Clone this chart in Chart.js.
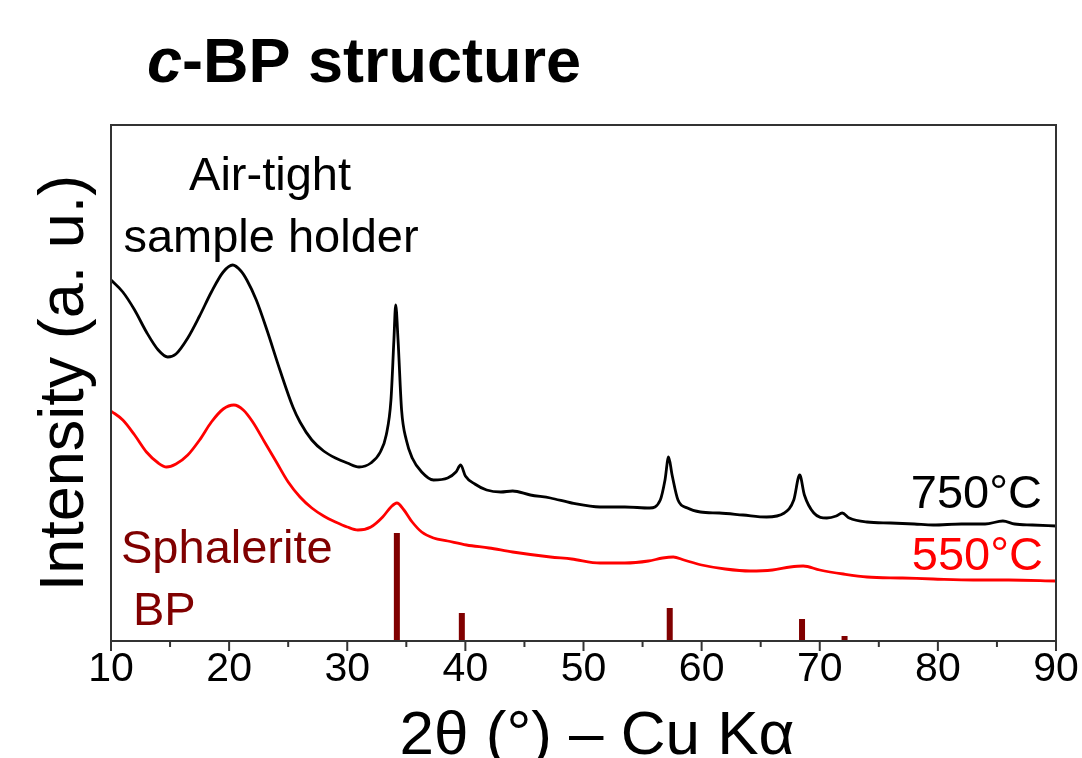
<!DOCTYPE html>
<html>
<head>
<meta charset="utf-8">
<script src="https://cdn.jsdelivr.net/npm/chart.js@4/dist/chart.umd.min.js"></script>
<style>
html,body{margin:0;padding:0;background:#fff;}
canvas{display:block;}
</style>
</head>
<body>
<canvas id="c" width="1082" height="758"></canvas>
<script>
// ---- Data (2θ in degrees, intensity in arbitrary units) ----
const angles750 = [10,11,12,13,14,14.8,15.5,16.5,17.5,18.5,19.5,20.3,21,21.5,22.3,23.2,24.3,25.4,26,27,28,29,30,31,32,32.8,33.3,33.7,33.95,34.1,34.3,34.6,35,35.5,36.3,37.3,38.5,39.2,39.6,40,40.8,41.8,43,44,45.5,47.2,49,51.4,53.5,55.6,56.5,56.9,57.2,57.5,58,58.8,59.9,61.5,63.5,65.5,67,67.8,68.3,68.7,69.5,70.6,71.4,71.9,72.5,74,76,78,79.6,82,84,85.5,86.5,88,90];
const intensity750 = [361,349,331,309,291,284,287,303,325,349,369,376,370,361,341,311,271,234,219,201,190,183,178,174,178,189,206,241,301,336,301,231,201,183,169,161,163,169,176,165,157,151,149,150,146,143,138,134,134,133,141,161,184,166,141,133,129,128,126,124,128,141,166,146,128,123,125,128,123,119,118,117,116,117,117,120,117,116,115];

const angles550 = [10,11,12,13,14,14.7,15.5,16.5,17.5,18.5,19.5,20.4,21.2,22,23,24,25,26,27,28,29,30,30.9,32,33,33.7,34.2,34.8,35.5,36.3,37.3,38.5,40.1,42,44,47.2,49,51.4,53.5,55.5,56.7,57.6,58.5,60,62,64.1,66,67.5,68.6,70,72,74,77,79.6,83,86,90];
const intensity550 = [230,221,206,189,178,174,177,186,201,219,232,236,231,219,199,179,159,144,133,125,119,114,111,114,124,134,138,131,119,109,103,100,96,93,89,84,82,78,78,80,83,84,81,76,72,70,71,74,75,71,67,64,63,62,61,61,60];

// Reference pattern: sphalerite BP
const refAngles = [34.2, 39.7, 57.3, 68.5, 72.1];
const refIntensity = [108, 28, 33, 22, 5];

const xTicks = [10,20,30,40,50,60,70,80,90];
const xMinorTicks = [15,25,35,45,55,65,75,85];

const FONT = '"Liberation Sans", Arial, Helvetica, sans-serif';

function pts(xs, ys){ return xs.map((x,i)=>({x:x, y:ys[i]})); }
const stickData = [];
refAngles.forEach((a,i)=>{ stickData.push({x:a,y:0},{x:a,y:refIntensity[i]},{x:a,y:null}); });

const decor = {
  id: 'decor',
  afterDraw(chart){
    const ctx = chart.ctx, ca = chart.chartArea, xs = chart.scales.x;
    ctx.save();
    // frame
    ctx.strokeStyle = '#333';
    ctx.lineWidth = 2;
    ctx.strokeRect(ca.left, ca.top, ca.right-ca.left, ca.bottom-ca.top);
    // ticks
    xTicks.forEach(v=>{ const p = xs.getPixelForValue(v); ctx.beginPath(); ctx.moveTo(p, ca.bottom); ctx.lineTo(p, ca.bottom+10); ctx.stroke(); });
    xMinorTicks.forEach(v=>{ const p = xs.getPixelForValue(v); ctx.beginPath(); ctx.moveTo(p, ca.bottom); ctx.lineTo(p, ca.bottom+6); ctx.stroke(); });

    // title
    ctx.fillStyle = '#000';
    ctx.textBaseline = 'alphabetic';
    ctx.textAlign = 'left';
    ctx.font = 'italic bold 63px ' + FONT;
    ctx.fillText('c', 147, 82);
    const w = ctx.measureText('c').width;
    ctx.font = 'bold 63px ' + FONT;
    ctx.fillText('-BP structure', 147 + w, 82);

    // annotations
    ctx.font = '47px ' + FONT;
    ctx.textAlign = 'center';
    ctx.fillText('Air-tight', 270, 190);
    ctx.fillText('sample holder', 271, 252);
    ctx.textAlign = 'right';
    ctx.fillText('750°C', 1042, 508);
    ctx.fillStyle = '#ff0000';
    ctx.fillText('550°C', 1043, 570);
    ctx.fillStyle = '#800000';
    ctx.textAlign = 'left';
    ctx.fillText('Sphalerite', 121, 563);
    ctx.fillText('BP', 133, 625);

    // axis titles
    ctx.fillStyle = '#000';
    ctx.font = '62px ' + FONT;
    ctx.textAlign = 'center';
    ctx.fillText('2θ (°) – Cu Kα', 597, 754);
    ctx.save();
    ctx.translate(83, 383);
    ctx.rotate(-Math.PI/2);
    ctx.font = '63px ' + FONT;
    ctx.fillText('Intensity (a. u.)', 0, 0);
    ctx.restore();
    ctx.restore();
  }
};

new Chart(document.getElementById('c'), {
  type: 'line',
  data: {
    datasets: [
      { label: '750°C', data: pts(angles750, intensity750), borderColor: '#000', borderWidth: 2.8, pointRadius: 0, cubicInterpolationMode: 'monotone', fill: false },
      { label: '550°C', data: pts(angles550, intensity550), borderColor: '#ff0000', borderWidth: 2.8, pointRadius: 0, cubicInterpolationMode: 'monotone', fill: false },
      { label: 'Sphalerite BP', data: stickData, borderColor: '#800000', borderWidth: 6, borderCapStyle: 'butt', pointRadius: 0, tension: 0, spanGaps: false, fill: false }
    ]
  },
  options: {
    responsive: false,
    animation: false,
    devicePixelRatio: 1,
    layout: { padding: { left: 111, right: 26, top: 125, bottom: 0 } },
    plugins: { legend: { display: false }, tooltip: { enabled: false }, title: { display: false } },
    scales: {
      x: {
        type: 'linear', min: 10, max: 90,
        afterFit(s){ s.height = 117; s.paddingLeft = 0; s.paddingRight = 0; },
        afterBuildTicks(s){ s.ticks = xTicks.map(v=>({value:v})); },
        grid: { display: false, drawOnChartArea: false, drawTicks: false },
        border: { display: false },
        ticks: { color: '#000', font: { family: FONT, size: 41 }, padding: 4, maxRotation: 0, autoSkip: false }
      },
      y: {
        type: 'linear', min: 0, max: 516, display: false
      }
    }
  },
  plugins: [decor]
});
</script>
</body>
</html>
